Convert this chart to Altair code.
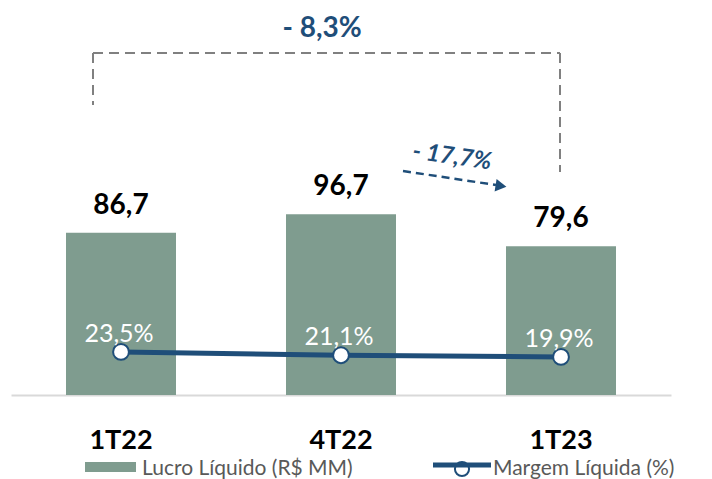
import altair as alt
import pandas as pd

# ---- data ----
periods = ["1T22", "4T22", "1T23"]
lucro = [86.7, 96.7, 79.6]
margem = [23.5, 21.1, 19.9]
lucro_labels = ["86,7", "96,7", "79,6"]
margem_labels = ["23,5%", "21,1%", "19,9%"]

var_total = "- 8,3%"
var_tri = "- 17,7%"
legend_bar = "Lucro Líquido (R$ MM)"
legend_line = "Margem Líquida (%)"

BAR = "#7f9c8f"
BLUE = "#1f4e79"
GRAY = "#808080"
FONT = "Lato"

df = pd.DataFrame({
    "periodo": periods,
    "lucro": lucro,
    "margem": margem,
    "lucro_lbl": lucro_labels,
    "margem_lbl": margem_labels,
})

x_enc = alt.X(
    "periodo:N",
    sort=periods,
    scale=alt.Scale(paddingInner=0.5, paddingOuter=0.25),
    axis=alt.Axis(
        title=None, labelAngle=0, ticks=False, tickSize=0,
        labelFont=FONT, labelFontSize=27, labelFontWeight="bold",
        labelColor="#000000", labelPadding=32,
        domainColor="#d9d9d9", domainWidth=2, grid=False,
    ),
)

y_bar = alt.Y("lucro:Q", scale=alt.Scale(domain=[0, 211.2], nice=False), axis=None)
y_line = alt.Y("margem:Q", scale=alt.Scale(domain=[-7.5, 276.5], nice=False, zero=False), axis=None)

base = alt.Chart(df)

bars = base.mark_bar(color=BAR).encode(x=x_enc, y=y_bar)
bar_text = base.mark_text(
    font=FONT, fontSize=28, fontWeight="bold", color="#000000",
    baseline="alphabetic", dy=-19,
).encode(x=x_enc, y=y_bar, text="lucro_lbl:N")
bar_layer = alt.layer(bars, bar_text)

line = base.mark_line(color=BLUE, strokeWidth=5).encode(x=x_enc, y=y_line)
points = base.mark_point(
    shape="circle", filled=True, fill="#ffffff", stroke=BLUE,
    strokeWidth=2, size=250, opacity=1,
).encode(x=x_enc, y=y_line)
pct_text = base.mark_text(
    font=FONT, fontSize=25, color="#ffffff", baseline="alphabetic", dy=-10, dx=-2,
).encode(x=x_enc, y=y_line, text="margem_lbl:N")
line_layer = alt.layer(line, points, pct_text)

one = alt.Chart(pd.DataFrame({"k": [0]}))
dash = [10, 6]

# bracket for total variation
br_top = one.mark_rule(color=GRAY, strokeWidth=2, strokeDash=dash).encode(
    x=alt.value(82), x2=alt.value(549), y=alt.value(53))
br_left = one.mark_rule(color=GRAY, strokeWidth=2, strokeDash=dash).encode(
    x=alt.value(82), y=alt.value(53), y2=alt.value(105))
br_right = one.mark_rule(color=GRAY, strokeWidth=2, strokeDash=dash).encode(
    x=alt.value(549), y=alt.value(53), y2=alt.value(172))
total_txt = one.mark_text(
    font=FONT, fontSize=28, fontWeight="bold", color=BLUE, baseline="alphabetic",
).encode(x=alt.value(311), y=alt.value(37), text=alt.value(var_total))

# arrow for quarterly variation
arrow_line = one.mark_rule(color=BLUE, strokeWidth=2.5, strokeDash=[8, 5]).encode(
    x=alt.value(392), y=alt.value(171), x2=alt.value(485), y2=alt.value(185))
arrow_head = one.mark_point(
    shape="triangle-right", filled=True, color=BLUE, size=160, angle=9, opacity=1,
).encode(x=alt.value(490), y=alt.value(186))
tri_txt = one.mark_text(
    font=FONT, fontSize=24, fontWeight="bold", fontStyle="italic", color=BLUE,
    angle=8, baseline="middle",
).encode(x=alt.value(441), y=alt.value(157), text=alt.value(var_tri))

# legend (bottom)
leg_rect = one.mark_rect(color=BAR).encode(
    x=alt.value(74), x2=alt.value(125), y=alt.value(462), y2=alt.value(472))
leg_txt1 = one.mark_text(
    font=FONT, fontSize=21, color="#595959", align="left", baseline="alphabetic",
).encode(x=alt.value(131), y=alt.value(475), text=alt.value(legend_bar))
leg_pt = one.mark_point(
    shape="circle", filled=True, fill="#ffffff", stroke=BLUE, strokeWidth=2,
    size=200, opacity=1,
).encode(x=alt.value(451), y=alt.value(469))
leg_line = one.mark_rule(color=BLUE, strokeWidth=5).encode(
    x=alt.value(422), x2=alt.value(480), y=alt.value(465))
leg_txt2 = one.mark_text(
    font=FONT, fontSize=21, color="#595959", align="left", baseline="alphabetic",
).encode(x=alt.value(482), y=alt.value(475), text=alt.value(legend_line))

chart = alt.layer(
    bar_layer, line_layer,
    br_top, br_left, br_right, total_txt,
    arrow_line, arrow_head, tri_txt,
    leg_rect, leg_txt1, leg_pt, leg_line, leg_txt2,
).resolve_scale(y="independent").properties(
    width=660, height=395,
    autosize=alt.AutoSizeParams(type="none"),
    padding={"left": 11, "top": 0, "right": 41, "bottom": 84},
    background="#ffffff",
).configure_view(stroke=None)

chart.save("out.html", embed_options={"renderer": "svg", "actions": False})
